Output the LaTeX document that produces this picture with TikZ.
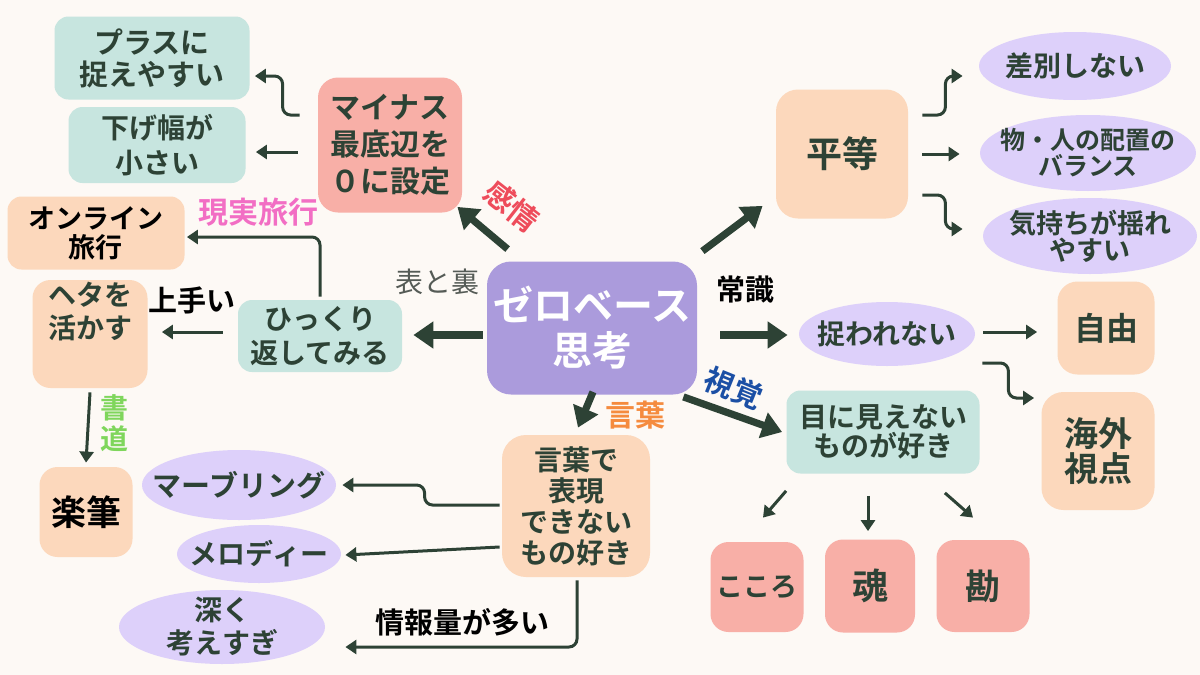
\documentclass[tikz,border=0pt]{standalone}
\usepackage{fontspec}
\setmainfont{Noto Sans CJK JP}[BoldFont={Noto Sans CJK JP Bold}]
\usetikzlibrary{arrows.meta,shapes.geometric,calc}
\definecolor{bg}{HTML}{FDF9F5}
\definecolor{ink}{HTML}{2D4235}
\definecolor{centerc}{HTML}{AB9BDC}
\definecolor{pinkc}{HTML}{F8AFA7}
\definecolor{tealc}{HTML}{C7E5DF}
\definecolor{peachc}{HTML}{FCD8BC}
\definecolor{lavc}{HTML}{DDD0FA}
\definecolor{lred}{HTML}{EE4C5B}
\definecolor{lmag}{HTML}{F26EC4}
\definecolor{lgray}{HTML}{555B56}
\definecolor{lgreen}{HTML}{7FD65C}
\definecolor{lorange}{HTML}{F58B3E}
\definecolor{lblue}{HTML}{1B4FA5}
\newcommand\fsz[2]{\bfseries\fontsize{#1}{#2}\selectfont}
\tikzset{
  box/.style={rounded corners=7pt, inner sep=0pt, align=center, text=ink},
  peachbox/.style={box, fill=peachc},
  pinkbox/.style={box, fill=pinkc},
  tealbox/.style={box, fill=tealc},
  ell/.style={ellipse, fill=lavc, inner sep=0pt},
  etxt/.style={inner sep=0pt, align=center, text=ink},
  thk/.style={draw=ink, line width=3.6pt, -{Triangle[length=10pt,width=13pt]}},
  thn/.style={draw=ink, line width=1.5pt, rounded corners=4pt, -{Triangle[length=5.5pt,width=7pt]}},
  lbl/.style={inner sep=0pt, align=center}
}
\begin{document}
\begin{tikzpicture}[x=0.5pt,y=-0.5pt]
\useasboundingbox (0,0) rectangle (1200,675);
\fill[bg] (0,0) rectangle (1200,675);

% center
\node[box, fill=centerc, text=white, minimum width=105pt, minimum height=66.5pt, rounded corners=12pt, font=\fsz{20}{22.5}] (c) at (592,328) {ゼロベース\\思考};

% left-top
\node[pinkbox, minimum width=72pt, minimum height=67.5pt, rounded corners=10pt, font=\fsz{15}{18.5}] (minus) at (390,145) {マイナス\\最底辺を\\０に設定};
\node[tealbox, minimum width=97.5pt, minimum height=41.5pt, font=\fsz{14.5}{16}] (plus) at (152,58) {プラスに\\捉えやすい};
\node[tealbox, minimum width=88.5pt, minimum height=38pt, font=\fsz{14}{17.5}] (sage) at (157,145) {下げ幅が\\小さい};
\node[peachbox, text=black, minimum width=88.5pt, minimum height=36.5pt, font=\fsz{13.5}{14.5}] (online) at (96,233) {オンライン\\旅行};
\node[peachbox, minimum width=57.5pt, minimum height=54pt, rounded corners=9pt, font=\fsz{14}{16.5}] (heta) at (90,334) {ヘタを\\活かす\\[2pt]\strut};
\node[peachbox, text=black, minimum width=46.5pt, minimum height=45pt, rounded corners=9pt, font=\fsz{17.5}{20}] (raku) at (86,512) {楽筆};
\node[tealbox, minimum width=82pt, minimum height=36pt, font=\fsz{14}{17}] (hik) at (320,336) {ひっくり\\返してみる};

% left-bottom ellipses
\node[ell, minimum width=97pt, minimum height=35pt, label={[etxt, font=\fsz{14.5}{17}]center:マーブリング}] (marble) at (239,485) {};
\node[ell, minimum width=82pt, minimum height=29pt, label={[etxt, font=\fsz{14}{17}]center:メロディー}] (melody) at (259,554) {};
\node[ell, minimum width=103pt, minimum height=37pt, label={[etxt, font=\fsz{14}{16.5}]center:{深く\\考えすぎ}}] (fukaku) at (222,627) {};
\node[peachbox, minimum width=74pt, minimum height=71pt, rounded corners=12pt, font=\fsz{14}{15.5}] (kotoba) at (576,506) {言葉で\\表現\\できない\\もの好き};

% right
\node[peachbox, minimum width=66pt, minimum height=64.5pt, rounded corners=11pt, font=\fsz{18}{20}] (eq) at (842,154) {平等};
\node[ell, minimum width=96pt, minimum height=34pt, label={[etxt, font=\fsz{14}{16}]center:差別しない}] (sabetsu) at (1075,66) {};
\node[ell, minimum width=108pt, minimum height=38pt, label={[etxt, font=\fsz{12.5}{13}]center:{物・人の配置の\\バランス}}] (haichi) at (1088,153) {};
\node[ell, minimum width=107pt, minimum height=38pt, label={[etxt, font=\fsz{13.5}{13.5}]center:{気持ちが揺れ\\やすい}}] (kimochi) at (1090,236) {};
\node[ell, minimum width=88pt, minimum height=32pt, label={[etxt, font=\fsz{14}{16}]center:捉われない}] (tora) at (887,334) {};
\node[peachbox, minimum width=48.5pt, minimum height=46.5pt, rounded corners=10pt, font=\fsz{16}{18}] (jiyu) at (1106,328) {自由};
\node[peachbox, minimum width=56.5pt, minimum height=59pt, rounded corners=11pt, font=\fsz{17}{17.5}] (kaigai) at (1098,451) {海外\\視点};
\node[tealbox, minimum width=96.5pt, minimum height=41.5pt, font=\fsz{14}{14.5}] (mienai) at (883,432) {目に見えない\\ものが好き};
\node[pinkbox, minimum width=46.5pt, minimum height=45pt, rounded corners=9pt, font=\fsz{13.5}{16}] (kokoro) at (757,587) {こころ};
\node[pinkbox, minimum width=45pt, minimum height=46.5pt, rounded corners=9pt, font=\fsz{18}{20}] (tama) at (870,586) {魂};
\node[pinkbox, minimum width=46.5pt, minimum height=46pt, rounded corners=9pt, font=\fsz{17.5}{20}] (kan) at (983,586) {勘};

% labels
\node[lbl, text=lred, rotate=-38, font=\fsz{15}{17}] (lkanjo) at (512,206) {感情};
\node[lbl, text=lmag, font=\fsz{15}{17}] (lgenjitsu) at (258,212) {現実旅行};
\node[lbl, text=lgray, font=\mdseries\fontsize{14}{17}\selectfont] (lomote) at (437,282) {表と裏};
\node[lbl, text=black, font=\fsz{14.5}{17}] (ljozu) at (192,300) {上手い};
\node[lbl, text=lgreen, font=\fsz{14}{15.5}] (lshodo) at (114,423) {書\\道};
\node[lbl, text=lorange, font=\fsz{15}{17}] (lkotoba) at (635,415) {言葉};
\node[lbl, text=lblue, rotate=-22, font=\fsz{15}{17}] (lshikaku) at (734,388) {視覚};
\node[lbl, text=black, font=\fsz{14.5}{17}] (ljoshiki) at (745,290) {常識};
\node[lbl, text=black, font=\fsz{14.5}{17}] (ljoho) at (462,622) {情報量が多い};

% thick arrows from center
\draw[thk] ($(c.north west)+(21,-12)$) -- ($(minus.south east)+(-5,-6)$);
\draw[thk] ($(c.north east)+(5,-10)$) -- ($(eq.south west)+(-13,-13)$);
\draw[thk] ($(c.east)+(23,7)$) -- ($(tora.west)+(-11,1)$);
\draw[thk] ($(c.south east)+(-14,2)$) -- ($(mienai.west)+(-4,0)$);
\draw[thk] ($(c.south)+(1,-3)$) -- ($(kotoba.north)+(2,-7)$);
\draw[thk] ($(c.west)+(-4,7)$) -- ($(hik.east)+(11,-1)$);

% thin arrows
\draw[thn] ($(minus.west)+(-18,-30)$) -- ++(-17,0) |- ($(plus.east)+(5,18)$);
\draw[thn] ($(minus.west)+(-20,7)$) -- ($(sage.east)+(10,7)$);
\draw[thn] ($(hik.north)+(0,-3)$) |- ($(online.east)+(2,4)$);
\draw[thn] ($(hik.west)+(-15,-4)$) -- ($(heta.east)+(14,-2)$);
\draw[thn] ($(heta.south)+(0,4)$) -- ($(raku.north)+(0,-4)$);
\draw[thn] ($(kotoba.west)+(-2,-1)$) -- ++(-75,0) |- ($(marble.east)+(6,0)$);
\draw[thn] ($(kotoba.west)+(-2,41)$) -- ($(melody.east)+(4,1)$);
\draw[thn] ($(kotoba.south)+(1,3)$) |- ($(fukaku.east)+(20,20)$);
\draw[thn] ($(eq.east)+(14,-39)$) -- ++(23,0) |- ($(sabetsu.west)+(-16,10)$);
\draw[thn] ($(eq.east)+(14,0)$) -- ($(haichi.west)+(-20,1)$);
\draw[thn] ($(eq.east)+(14,41)$) -- ++(23,0) |- ($(kimochi.west)+(-20,-7)$);
\draw[thn] ($(tora.east)+(8,-2)$) -- ($(jiyu.west)+(-20,4)$);
\draw[thn] ($(tora.east)+(7,29)$) -- ++(26,0) |- ($(kaigai.west)+(-7,-53)$);
\draw[thn] ($(mienai.south west)+(0,17)$) -- ($(kokoro.north)+(6,-24)$);
\draw[thn] ($(mienai.south)+(-15,22)$) -- ($(tama.north)+(-2,-8)$);
\draw[thn] ($(mienai.south east)+(-35,19)$) -- ($(kan.north)+(-10,-22)$);
\end{tikzpicture}
\end{document}
